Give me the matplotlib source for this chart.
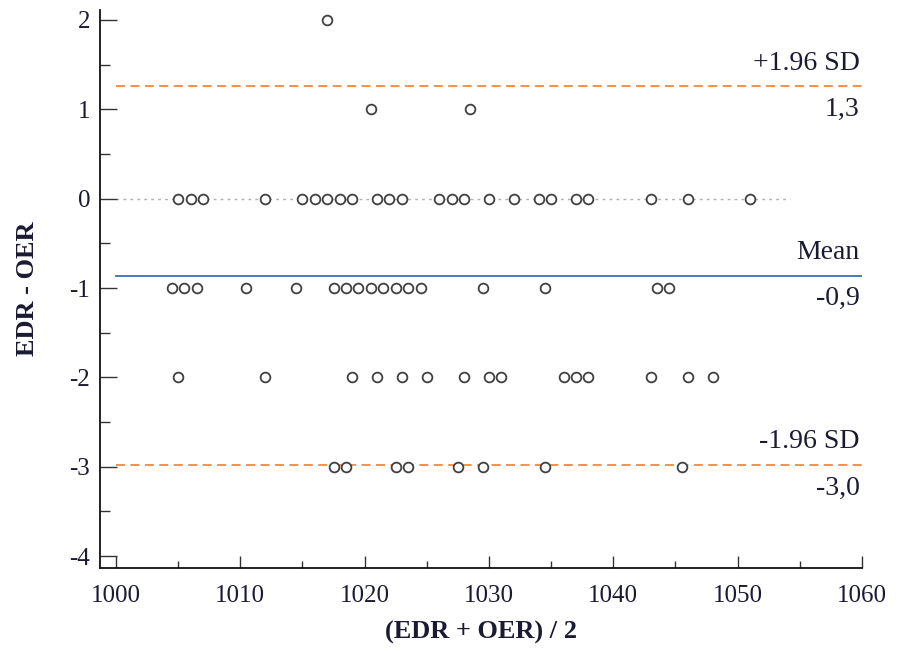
import numpy as np
import matplotlib
matplotlib.use("Agg")
import matplotlib.pyplot as plt
from matplotlib.ticker import MultipleLocator

plt.rcParams['font.family'] = ['Liberation Serif', 'DejaVu Serif']
plt.rcParams['axes.unicode_minus'] = False

# mean of the two methods, grouped by their difference
x_diff_p2 = [1017]
x_diff_p1 = [1020.5, 1028.5]
x_diff_0 = [1005, 1006, 1007, 1012, 1015, 1016, 1017, 1018, 1019, 1021, 1022, 1023,
            1026, 1027, 1028, 1030, 1032, 1034, 1035, 1037, 1038, 1043, 1046, 1051]
x_diff_m1 = [1004.5, 1005.5, 1006.5, 1010.5, 1014.5, 1017.5, 1018.5, 1019.5, 1020.5,
             1021.5, 1022.5, 1023.5, 1024.5, 1029.5, 1034.5, 1043.5, 1044.5]
x_diff_m2 = [1005, 1012, 1019, 1021, 1023, 1025, 1028, 1030, 1031, 1036, 1037, 1038,
             1043, 1046, 1048]
x_diff_m3 = [1017.5, 1018.5, 1022.5, 1023.5, 1027.5, 1029.5, 1034.5, 1045.5]

groups = [(2, x_diff_p2), (1, x_diff_p1), (0, x_diff_0), (-1, x_diff_m1),
          (-2, x_diff_m2), (-3, x_diff_m3)]

mean_diff = -0.86
sd_diff = 1.08
upper = mean_diff + 1.96 * sd_diff
lower = mean_diff - 1.96 * sd_diff

fig = plt.figure(figsize=(8.97, 6.53), dpi=100)
ax = fig.add_axes([0.1115, 0.130, 0.8495, 0.8545])

ax.set_xlim(998.72, 1060)
ax.set_ylim(-4.134, 2.11)

# line of equality
ax.plot([1000, 1054.2], [0, 0], color='#b0b0b0', lw=1, ls=(0, (2, 3)), zorder=1)
ax.plot([1000, 1060], [mean_diff, mean_diff], color='#3a70b8', lw=1.3, zorder=2)
ax.plot([1000, 1060], [upper, upper], color='#f5883a', lw=1.3, ls=(0, (5, 3)), zorder=2)
ax.plot([1000, 1060], [lower, lower], color='#f5883a', lw=1.3, ls=(0, (5, 3)), zorder=2)

for d, xs in groups:
    ax.plot(xs, [d] * len(xs), ls='none', marker='o', ms=7, mfc='white',
            mec='#404040', mew=1.3, zorder=3)

tcol = '#1a1a33'
tx = 1059.8
fs = 20
off = 0.26
def fmt(v):
    return f'{v:.1f}'.replace('.', ',')

ax.text(tx, upper + off, '+1.96 SD', ha='right', va='center', fontsize=fs, color=tcol)
ax.text(tx, upper - off, fmt(upper), ha='right', va='center', fontsize=fs, color=tcol)
ax.text(tx, mean_diff + off, 'Mean', ha='right', va='center', fontsize=fs, color=tcol)
ax.text(tx, mean_diff - off, fmt(mean_diff), ha='right', va='center', fontsize=fs, color=tcol)
ax.text(tx, lower + off, '-1.96 SD', ha='right', va='center', fontsize=fs, color=tcol)
ax.text(tx, lower - off, fmt(lower), ha='right', va='center', fontsize=fs, color=tcol)

ax.spines['top'].set_visible(False)
ax.spines['right'].set_visible(False)
for s in ['left', 'bottom']:
    ax.spines[s].set_color('#111111')
    ax.spines[s].set_linewidth(1.3)

ax.set_xticks(np.arange(1000, 1061, 10))
ax.set_yticks(np.arange(-4, 3, 1))
ax.xaxis.set_minor_locator(MultipleLocator(5))
ax.yaxis.set_minor_locator(MultipleLocator(0.5))
ax.tick_params(which='both', direction='in', width=1, color='#333333',
               labelsize=18, labelcolor=tcol)
ax.tick_params(axis='x', which='major', length=9, pad=12)
ax.tick_params(axis='x', which='minor', length=5)
ax.tick_params(axis='y', which='major', length=12, pad=7)
ax.tick_params(axis='y', which='minor', length=7)

ax.set_xlabel('(EDR + OER) / 2', fontsize=19, fontweight='bold', color=tcol, labelpad=10)
ax.set_ylabel('EDR - OER', fontsize=19, fontweight='bold', color=tcol, labelpad=22)

fig.savefig('out.png', dpi=100)
